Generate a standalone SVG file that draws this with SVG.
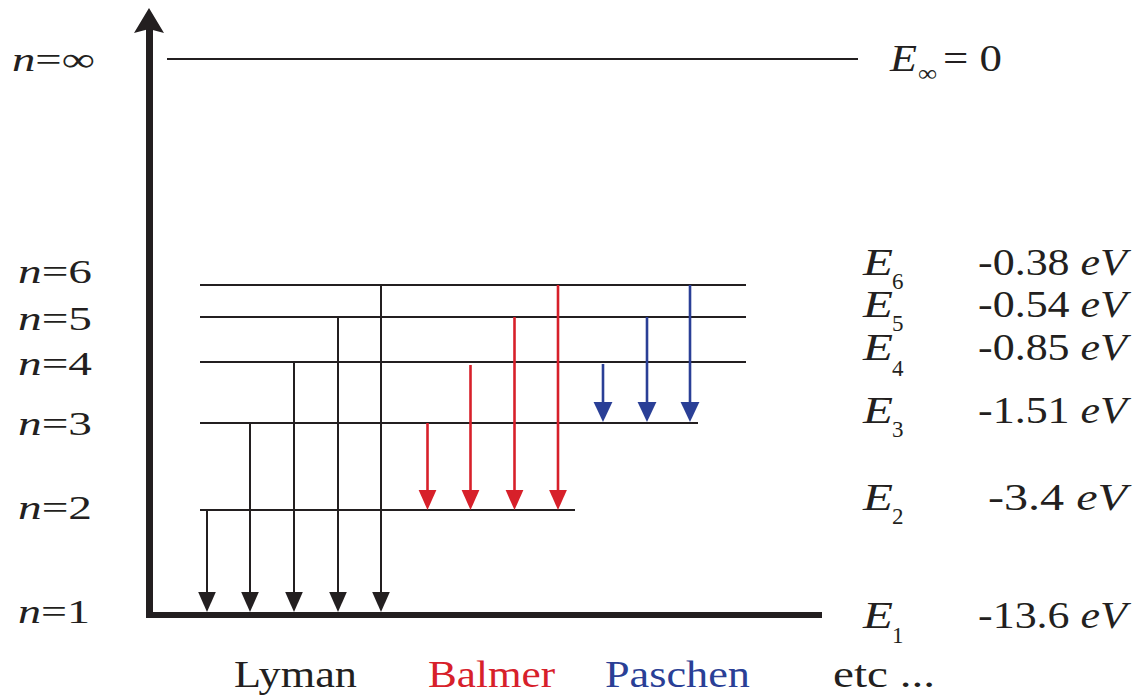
<svg xmlns="http://www.w3.org/2000/svg" width="1137" height="697" viewBox="0 0 1137 697">
<style>
text{font-family:"Liberation Serif","Times New Roman",serif;fill:#231f20}
.lab{font-size:34px}
.big{font-size:37px}
.sub{font-size:23px}
.it{font-style:italic}
.lvl{stroke:#231f20;stroke-width:2.2;fill:none}
.ly{stroke:#231f20;stroke-width:2}
.ba{stroke:#d7202a;stroke-width:2.6}
.pa{stroke:#2a3f96;stroke-width:2.6}
.red{fill:#d7202a}
.blue{fill:#2a3f96}
</style>
<defs>
<marker id="hk" markerUnits="userSpaceOnUse" markerWidth="20" markerHeight="20" refX="0" refY="7.5" orient="auto" viewBox="0 0 17 15"><path d="M0,0 L17,7.5 L0,15 Z" fill="#231f20"/></marker>
<marker id="hr" markerUnits="userSpaceOnUse" markerWidth="20" markerHeight="20" refX="0" refY="8" orient="auto" viewBox="0 0 18 16"><path d="M0,0 L18,8 L0,16 Z" fill="#d7202a"/></marker>
<marker id="hb" markerUnits="userSpaceOnUse" markerWidth="20" markerHeight="20" refX="0" refY="8" orient="auto" viewBox="0 0 17 16"><path d="M0,0 L17,8 L0,16 Z" fill="#2a3f96"/></marker>
</defs>

<g id="axes">
<line x1="149.5" y1="615" x2="149.5" y2="28" stroke="#231f20" stroke-width="7"/>
<path d="M149,8 L164,33 L149,29 L134,33 Z" fill="#231f20"/>
<line x1="146" y1="615" x2="822" y2="615" stroke="#231f20" stroke-width="6"/>
</g>

<g id="levels">
<line class="lvl" x1="167" y1="59" x2="858" y2="59"/>
<line class="lvl" x1="200" y1="285" x2="746" y2="285"/>
<line class="lvl" x1="200" y1="317" x2="746" y2="317"/>
<line class="lvl" x1="200" y1="362" x2="746" y2="362"/>
<line class="lvl" x1="200" y1="423" x2="698" y2="423"/>
<line class="lvl" x1="200" y1="510" x2="575" y2="510"/>
</g>

<g id="connectors">
<g id="lyman">
<line class="ly" x1="207" y1="510" x2="207" y2="592" marker-end="url(#hk)"/>
<line class="ly" x1="250" y1="423" x2="250" y2="592" marker-end="url(#hk)"/>
<line class="ly" x1="294" y1="362" x2="294" y2="592" marker-end="url(#hk)"/>
<line class="ly" x1="338" y1="317" x2="338" y2="592" marker-end="url(#hk)"/>
<line class="ly" x1="381" y1="285" x2="381" y2="592" marker-end="url(#hk)"/>
</g>
<g id="balmer">
<line class="ba" x1="427.5" y1="423" x2="427.5" y2="490" marker-end="url(#hr)"/>
<line class="ba" x1="470.5" y1="365" x2="470.5" y2="490" marker-end="url(#hr)"/>
<line class="ba" x1="514.5" y1="317" x2="514.5" y2="490" marker-end="url(#hr)"/>
<line class="ba" x1="558" y1="285" x2="558" y2="490" marker-end="url(#hr)"/>
</g>
<g id="paschen">
<line class="pa" x1="603" y1="364" x2="603" y2="402" marker-end="url(#hb)"/>
<line class="pa" x1="647" y1="317" x2="647" y2="402" marker-end="url(#hb)"/>
<line class="pa" x1="690" y1="285" x2="690" y2="402" marker-end="url(#hb)"/>
</g>
</g>

<g id="n-labels" class="lab">
<text x="12" y="71" textLength="83" lengthAdjust="spacingAndGlyphs"><tspan class="it">n</tspan>=∞</text>
<text x="18" y="283" textLength="74" lengthAdjust="spacingAndGlyphs"><tspan class="it">n</tspan>=6</text>
<text x="18" y="330" textLength="74" lengthAdjust="spacingAndGlyphs"><tspan class="it">n</tspan>=5</text>
<text x="18" y="375" textLength="74" lengthAdjust="spacingAndGlyphs"><tspan class="it">n</tspan>=4</text>
<text x="18" y="435" textLength="74" lengthAdjust="spacingAndGlyphs"><tspan class="it">n</tspan>=3</text>
<text x="18" y="519" textLength="74" lengthAdjust="spacingAndGlyphs"><tspan class="it">n</tspan>=2</text>
<text x="18" y="623" textLength="72" lengthAdjust="spacingAndGlyphs"><tspan class="it">n</tspan>=1</text>
</g>

<g id="e-labels">
<text class="big it" x="890" y="71" textLength="27" lengthAdjust="spacingAndGlyphs">E</text>
<text class="sub" x="918" y="81" textLength="19" lengthAdjust="spacingAndGlyphs">∞</text>
<text class="big" x="943" y="71" textLength="59" lengthAdjust="spacingAndGlyphs">= 0</text>

<text class="big it" x="863" y="275" textLength="30" lengthAdjust="spacingAndGlyphs">E</text>
<text class="sub" x="892" y="289">6</text>
<text class="big it" x="863" y="317" textLength="30" lengthAdjust="spacingAndGlyphs">E</text>
<text class="sub" x="892" y="331">5</text>
<text class="big it" x="863" y="360" textLength="30" lengthAdjust="spacingAndGlyphs">E</text>
<text class="sub" x="892" y="376">4</text>
<text class="big it" x="863" y="423" textLength="30" lengthAdjust="spacingAndGlyphs">E</text>
<text class="sub" x="892" y="437">3</text>
<text class="big it" x="863" y="510" textLength="30" lengthAdjust="spacingAndGlyphs">E</text>
<text class="sub" x="892" y="524">2</text>
<text class="big it" x="863" y="628" textLength="30" lengthAdjust="spacingAndGlyphs">E</text>
<text class="sub" x="892" y="643">1</text>
</g>

<g id="values" class="big">
<text x="978" y="275" textLength="149" lengthAdjust="spacingAndGlyphs">-0.38 <tspan class="it">eV</tspan></text>
<text x="978" y="317" textLength="149" lengthAdjust="spacingAndGlyphs">-0.54 <tspan class="it">eV</tspan></text>
<text x="978" y="360" textLength="149" lengthAdjust="spacingAndGlyphs">-0.85 <tspan class="it">eV</tspan></text>
<text x="978" y="423" textLength="149" lengthAdjust="spacingAndGlyphs">-1.51 <tspan class="it">eV</tspan></text>
<text x="988" y="510" textLength="139" lengthAdjust="spacingAndGlyphs">-3.4 <tspan class="it">eV</tspan></text>
<text x="978" y="628" textLength="149" lengthAdjust="spacingAndGlyphs">-13.6 <tspan class="it">eV</tspan></text>
</g>

<g id="series-labels" class="big">
<text x="234" y="687" textLength="123" lengthAdjust="spacingAndGlyphs">Lyman</text>
<text class="red" x="428" y="687" textLength="127" lengthAdjust="spacingAndGlyphs">Balmer</text>
<text class="blue" x="605" y="687" textLength="145" lengthAdjust="spacingAndGlyphs">Paschen</text>
<text x="833" y="687" textLength="102" lengthAdjust="spacingAndGlyphs">etc ...</text>
</g>
</svg>
